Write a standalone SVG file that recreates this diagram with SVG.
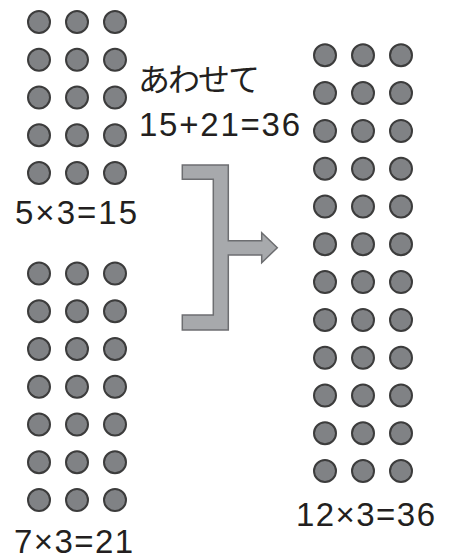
<svg xmlns="http://www.w3.org/2000/svg" xmlns:xlink="http://www.w3.org/1999/xlink" width="453" height="559" viewBox="0 0 453 559">
<style>
.dot{fill:#808285;stroke:#3c3c3c;stroke-width:2}
.num{font-family:"Liberation Sans",Arial,sans-serif;font-size:33px;fill:#231f20}
.jp{font-family:"Noto Sans CJK JP","Noto Sans",sans-serif;font-size:32px;fill:#231f20}
.arrow{fill:#a7a9ac;stroke:#6d6e71;stroke-width:1.5;stroke-linejoin:miter}
</style>
<defs>
<g id="row"><circle class="dot" cx="0" cy="0" r="11"/><circle class="dot" cx="38" cy="0" r="11"/><circle class="dot" cx="76" cy="0" r="11"/></g>
</defs>
<rect width="453" height="559" fill="#ffffff"/>
<g id="group-5x3">
<use xlink:href="#row" x="39" y="22"/>
<use xlink:href="#row" x="39" y="59.75"/>
<use xlink:href="#row" x="39" y="97.5"/>
<use xlink:href="#row" x="39" y="135.25"/>
<use xlink:href="#row" x="39" y="173"/>
<text class="num" x="15" y="224" textLength="122" lengthAdjust="spacing">5×3=15</text>
</g>
<g id="group-7x3">
<use xlink:href="#row" x="39" y="273.5"/>
<use xlink:href="#row" x="39" y="311.25"/>
<use xlink:href="#row" x="39" y="349"/>
<use xlink:href="#row" x="39" y="386.75"/>
<use xlink:href="#row" x="39" y="424.5"/>
<use xlink:href="#row" x="39" y="462.25"/>
<use xlink:href="#row" x="39" y="500"/>
<text class="num" x="14" y="553" textLength="119" lengthAdjust="spacing">7×3=21</text>
</g>
<g id="group-12x3">
<use xlink:href="#row" x="325" y="55.3"/>
<use xlink:href="#row" x="325" y="93.1"/>
<use xlink:href="#row" x="325" y="130.9"/>
<use xlink:href="#row" x="325" y="168.7"/>
<use xlink:href="#row" x="325" y="206.5"/>
<use xlink:href="#row" x="325" y="244.3"/>
<use xlink:href="#row" x="325" y="282.1"/>
<use xlink:href="#row" x="325" y="319.9"/>
<use xlink:href="#row" x="325" y="357.7"/>
<use xlink:href="#row" x="325" y="395.5"/>
<use xlink:href="#row" x="325" y="433.3"/>
<use xlink:href="#row" x="325" y="471"/>
<text class="num" x="296" y="525.5" textLength="139" lengthAdjust="spacing">12×3=36</text>
</g>
<g id="label-sum">
<text class="jp" x="138" y="90.5" textLength="122" lengthAdjust="spacing">あわせて</text>
<text class="num" x="139" y="136" textLength="161" lengthAdjust="spacing">15+21=36</text>
</g>
<g id="connectors">
<polygon class="arrow" points="182.3,165 228.3,165 228.3,240.7 261.7,240.7 261.7,232.7 277.3,247.7 261.7,262.7 261.7,255 228.3,255 228.3,330 182.3,330 182.3,315 213.3,315 213.3,179.3 182.3,179.3"/>
</g>
</svg>
